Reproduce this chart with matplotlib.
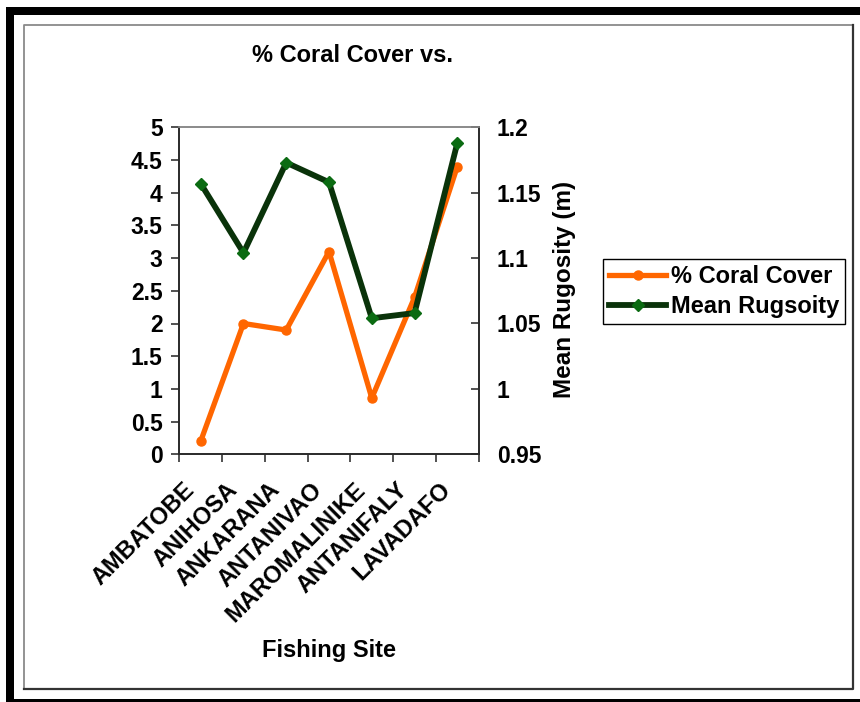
import matplotlib
matplotlib.use("Agg")
import matplotlib.pyplot as plt
import matplotlib.transforms as mtransforms
from matplotlib.patches import Rectangle
from matplotlib.lines import Line2D
from matplotlib.ticker import FixedLocator, FuncFormatter

plt.rcParams['font.family'] = ['Liberation Sans', 'DejaVu Sans']
plt.rcParams['font.weight'] = 'bold'

sites = ["AMBATOBE", "ANIHOSA", "ANKARANA", "ANTANIVAO",
         "MAROMALINIKE", "ANTANIFALY", "LAVADAFO"]
coral_cover = [0.2, 2.0, 1.9, 3.1, 0.86, 2.4, 4.4]
mean_rugosity = [1.157, 1.104, 1.173, 1.158, 1.054, 1.058, 1.188]
left_ticks = [0, 0.5, 1, 1.5, 2, 2.5, 3, 3.5, 4, 4.5, 5]
right_ticks = [0.95, 1.0, 1.05, 1.1, 1.15, 1.2]

W, H = 860, 702
fig = plt.figure(figsize=(W / 100, H / 100), dpi=100)


def fx(x):
    return x / W


def fy(y):
    return 1 - y / H


# outer heavy frame (open on the right)
for (x0, y0, x1, y1) in [(6, 7, 860, 15), (6, 7, 14, 702), (6, 699, 860, 702)]:
    fig.add_artist(Rectangle((fx(x0), fy(y1)), fx(x1) - fx(x0), fy(y0) - fy(y1),
                             transform=fig.transFigure, facecolor='black',
                             edgecolor='none', zorder=0))

# inner chart-area frame
fig.add_artist(Line2D([fx(24), fx(24), fx(853)], [fy(689), fy(25), fy(25)],
                      transform=fig.transFigure, color='#8a8a8a', lw=1.3))
fig.add_artist(Line2D([fx(24), fx(853), fx(853)], [fy(689), fy(689), fy(25)],
                      transform=fig.transFigure, color='#333333', lw=1.6))

L, R, T, B = 179.3, 478.7, 127.3, 454.3
ax = fig.add_axes([fx(L), fy(B), fx(R) - fx(L), fy(T) - fy(B)])
ax2 = ax.twinx()

x = list(range(len(sites)))

ax.plot(x, coral_cover, color='#FF6600', lw=3.8, marker='o', ms=6.5,
        mfc='#FF6600', mec='#FF6600', solid_joinstyle='round',
        label='% Coral Cover', zorder=3)
ax2.plot(x, mean_rugosity, color='#0A330A', lw=4.2, marker='D', ms=6.5,
         mfc='#0B6B12', mec='#0B6B12', solid_joinstyle='round',
         label='Mean Rugsoity', zorder=3)

ax.set_xlim(-0.5, len(sites) - 0.5)
ax.set_ylim(0, 5)
ax2.set_ylim(0.95, 1.2)

fmt = FuncFormatter(lambda v, p: f"{v:g}")

ax.yaxis.set_major_locator(FixedLocator(left_ticks))
ax.yaxis.set_major_formatter(fmt)
ax2.yaxis.set_major_locator(FixedLocator(right_ticks))
ax2.yaxis.set_major_formatter(fmt)

# category boundaries carry the tick marks, centres carry the names
ax.xaxis.set_major_locator(FixedLocator([i - 0.5 for i in range(len(sites) + 1)]))
ax.xaxis.set_major_formatter(FuncFormatter(lambda v, p: ""))
ax.xaxis.set_minor_locator(FixedLocator(x))
ax.set_xticklabels(sites, minor=True, rotation=45, ha='right', va='center',
                   rotation_mode='anchor', fontsize=17, fontweight='bold')
ax.tick_params(axis='x', which='minor', length=0, pad=23)
ax.tick_params(axis='x', which='major', direction='out', length=6, width=1.1,
               color='#222222')
shift = mtransforms.ScaledTranslation(-10 / 100, 0, fig.dpi_scale_trans)
for lab in ax.xaxis.get_minorticklabels():
    lab.set_transform(lab.get_transform() + shift)

ax.tick_params(axis='y', direction='out', length=6, width=1.1, color='#222222',
               labelsize=16.5, pad=6)
ax2.tick_params(axis='y', direction='in', length=5.5, width=1.1, color='#222222',
                labelsize=16.5, pad=13)
for lab in ax.get_yticklabels() + ax2.get_yticklabels():
    lab.set_fontweight('bold')

for a in (ax, ax2):
    for side in ('left', 'right', 'bottom'):
        a.spines[side].set_color('#2a2a2a')
        a.spines[side].set_linewidth(1.2)
    a.spines['top'].set_color('#8a8a8a')
    a.spines['top'].set_linewidth(1.2)
    a.set_facecolor('none')

fig.text(fx(352), fy(56), "% Coral Cover vs.", ha='center', va='center',
         fontsize=17, fontweight='bold')
fig.text(fx(329.5), fy(650), "Fishing Site", ha='center', va='center',
         fontsize=17, fontweight='bold')
fig.text(fx(565), fy(289.5), "Mean Rugosity (m)", ha='center', va='center',
         rotation=90, fontsize=17.5, fontweight='bold')

h1, l1 = ax.get_legend_handles_labels()
h2, l2 = ax2.get_legend_handles_labels()
leg = fig.legend(h1 + h2, l1 + l2, loc='center',
                 bbox_to_anchor=(fx(724), fy(291.5)),
                 bbox_transform=fig.transFigure, frameon=True, fancybox=False,
                 edgecolor='black', framealpha=1, handlelength=2.4,
                 handletextpad=0.2, borderpad=0.25, labelspacing=0.3,
                 prop={'size': 17, 'weight': 'bold'})
leg.get_frame().set_linewidth(1.0)

fig.savefig("out.png", dpi=100, facecolor='white')
